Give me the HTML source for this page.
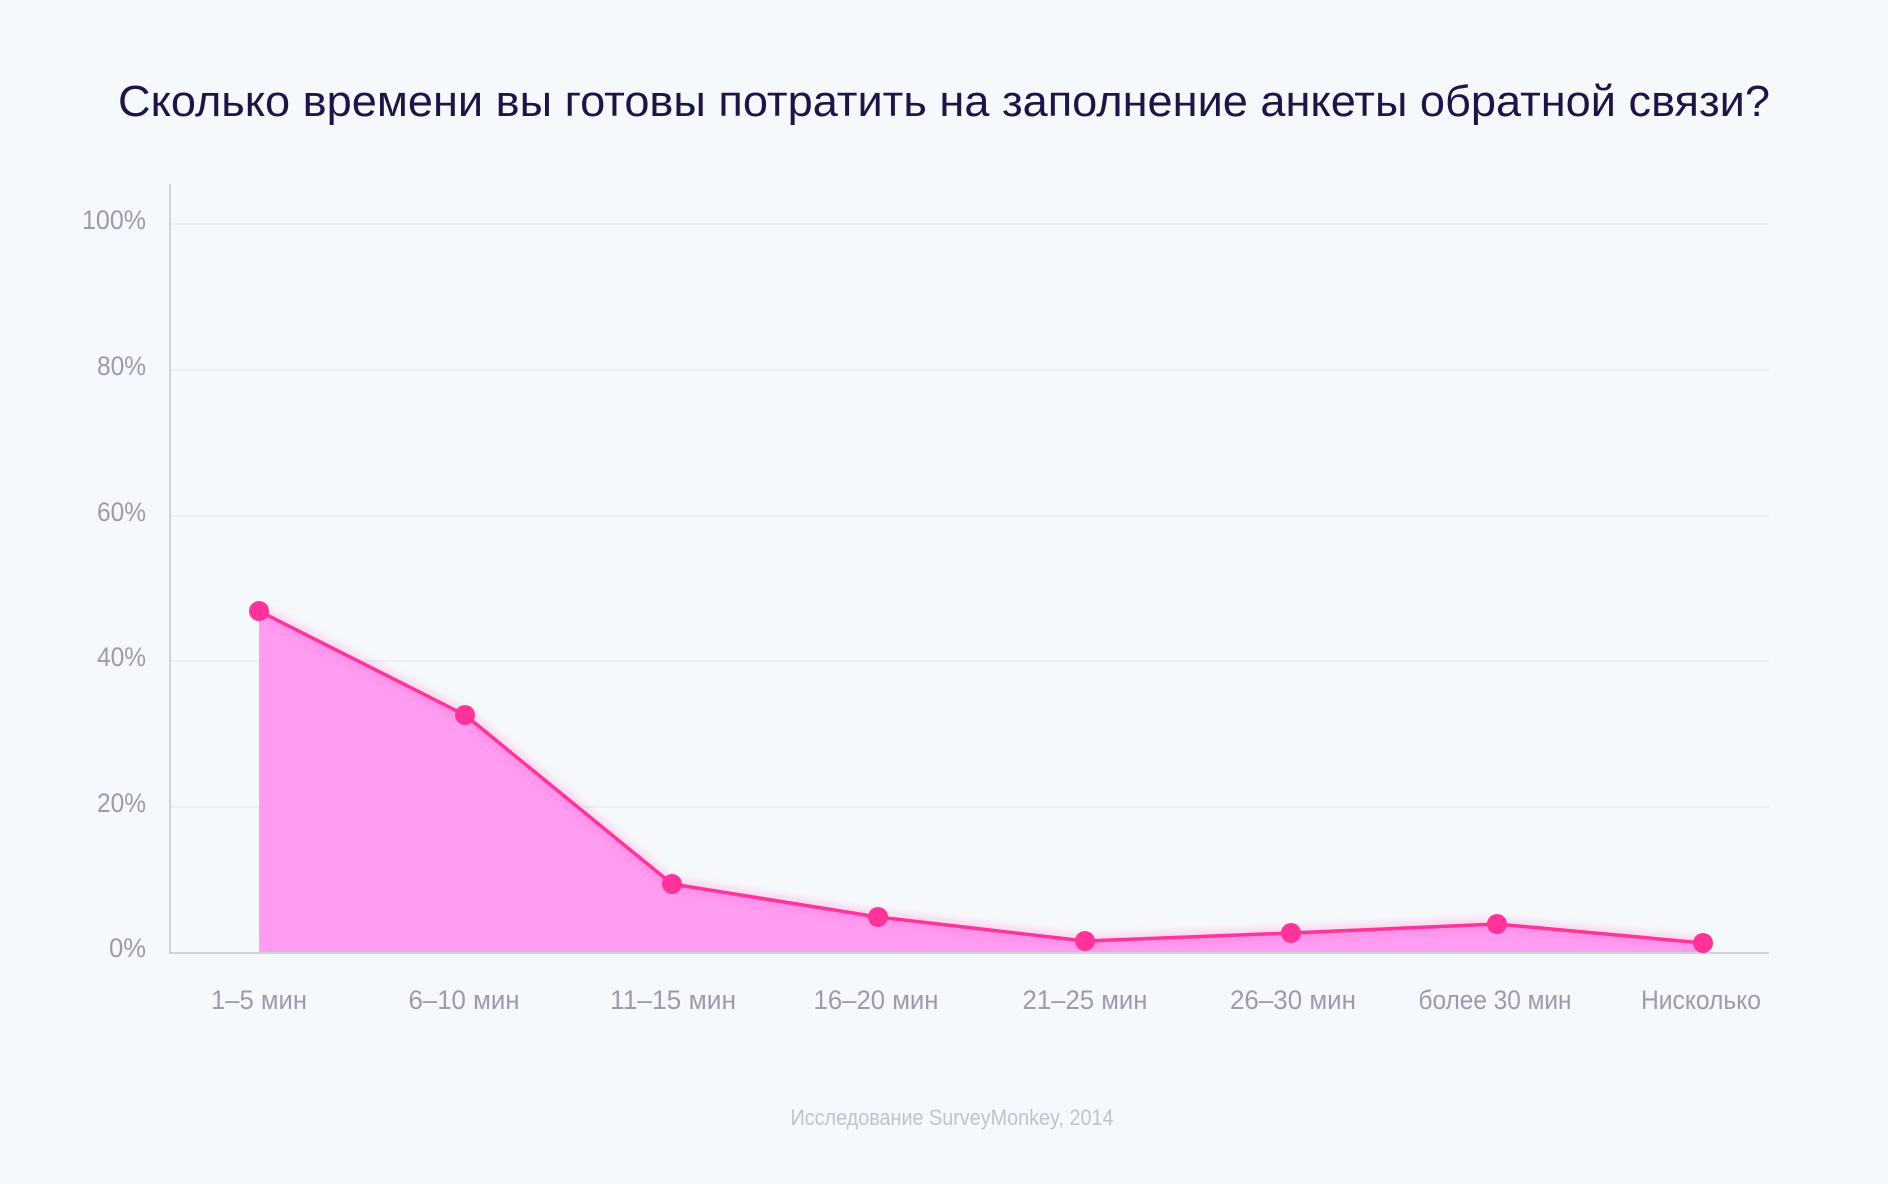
<!DOCTYPE html>
<html><head><meta charset="utf-8"><style>
html,body{margin:0;padding:0;background:#f6f9fc;}
svg{display:block}
text{font-family:"Liberation Sans","DejaVu Sans",sans-serif;}
</style></head><body>
<svg width="1888" height="1184" viewBox="0 0 1888 1184" xmlns="http://www.w3.org/2000/svg">
<defs>
<filter id="glow" x="-50%" y="-50%" width="200%" height="200%"><feGaussianBlur stdDeviation="5"/></filter>
</defs>
<rect width="1888" height="1184" fill="#f6f9fc"/>
<text x="944" y="116" text-anchor="middle" font-size="44" fill="#1f1446" textLength="1652" lengthAdjust="spacingAndGlyphs">Сколько времени вы готовы потратить на заполнение анкеты обратной связи?</text>
<g stroke="#e9ecf1" stroke-width="1.5">
<line x1="170" x2="1769" y1="224" y2="224"/>
<line x1="170" x2="1769" y1="370" y2="370"/>
<line x1="170" x2="1769" y1="516" y2="516"/>
<line x1="170" x2="1769" y1="661" y2="661"/>
<line x1="170" x2="1769" y1="807" y2="807"/>
</g>
<g font-size="27" fill="#9d9aae" text-anchor="end">
<text x="146" y="229" textLength="64" lengthAdjust="spacingAndGlyphs">100%</text>
<text x="146" y="375" textLength="49" lengthAdjust="spacingAndGlyphs">80%</text>
<text x="146" y="521" textLength="49" lengthAdjust="spacingAndGlyphs">60%</text>
<text x="146" y="666" textLength="49" lengthAdjust="spacingAndGlyphs">40%</text>
<text x="146" y="812" textLength="49" lengthAdjust="spacingAndGlyphs">20%</text>
<text x="146" y="957" textLength="37" lengthAdjust="spacingAndGlyphs">0%</text>
</g>
<polygon fill="#ff9df2" points="259,952 259,611 465,715 672,884 878,917 1085,941 1291,933 1497,924 1703,943 1703,952"/>
<polyline fill="none" stroke="#ff5fb8" stroke-width="8" opacity="0.35" filter="url(#glow)" points="259,611 465,715 672,884 878,917 1085,941 1291,933 1497,924 1703,943"/>
<polyline fill="none" stroke="#ff3399" stroke-width="3.5" stroke-linejoin="round" points="259,611 465,715 672,884 878,917 1085,941 1291,933 1497,924 1703,943"/>
<line x1="170" y1="184" x2="170" y2="953" stroke="#c4c4cf" stroke-width="1.5"/>
<line x1="169" y1="953" x2="1769" y2="953" stroke="#c4c4cf" stroke-width="1.5"/>
<g fill="#ff3399">
<circle cx="259" cy="611" r="10"/><circle cx="465" cy="715" r="10"/><circle cx="672" cy="884" r="10"/><circle cx="878" cy="917" r="10"/><circle cx="1085" cy="941" r="10"/><circle cx="1291" cy="933" r="10"/><circle cx="1497" cy="924" r="10"/><circle cx="1703" cy="943" r="10"/>
</g>
<g font-size="27" fill="#9d9aae" text-anchor="middle">
<text x="259" y="1009" textLength="96" lengthAdjust="spacingAndGlyphs">1–5 мин</text>
<text x="464" y="1009" textLength="111" lengthAdjust="spacingAndGlyphs">6–10 мин</text>
<text x="673" y="1009" textLength="126" lengthAdjust="spacingAndGlyphs">11–15 мин</text>
<text x="876" y="1009" textLength="125" lengthAdjust="spacingAndGlyphs">16–20 мин</text>
<text x="1085" y="1009" textLength="125" lengthAdjust="spacingAndGlyphs">21–25 мин</text>
<text x="1293" y="1009" textLength="126" lengthAdjust="spacingAndGlyphs">26–30 мин</text>
<text x="1495" y="1009" textLength="153" lengthAdjust="spacingAndGlyphs">более 30 мин</text>
<text x="1701" y="1009" textLength="120" lengthAdjust="spacingAndGlyphs">Нисколько</text>
</g>
<text x="952" y="1125" text-anchor="middle" font-size="22" fill="#c2c1cf" textLength="323" lengthAdjust="spacingAndGlyphs">Исследование SurveyMonkey, 2014</text>
</svg>
</body></html>
